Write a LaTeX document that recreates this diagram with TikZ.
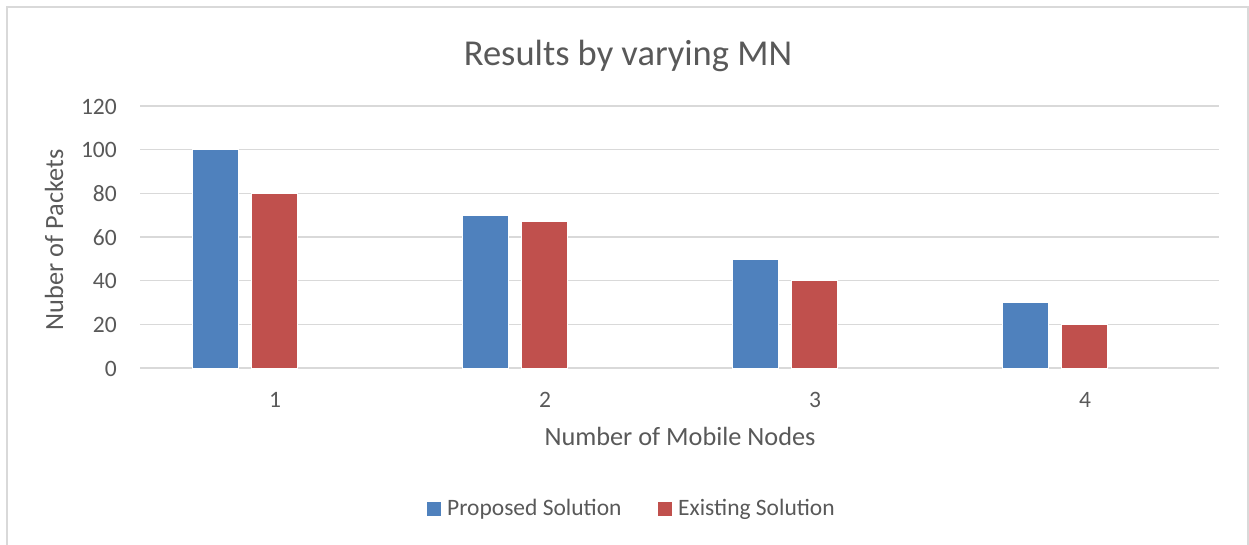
\documentclass[tikz,border=0pt]{standalone}
\usepackage{fontspec}
\setmainfont{Carlito}
\definecolor{serA}{HTML}{4F81BD}
\definecolor{serB}{HTML}{C0504D}
\definecolor{gridc}{HTML}{D9D9D9}
\definecolor{txt}{HTML}{595959}
\tikzset{
  gridline/.style={draw=gridc, line width=1.5pt},
  barA/.style={fill=serA, draw=white, line width=0.6pt},
  barB/.style={fill=serB, draw=white, line width=0.6pt},
  ticklab/.style={text=txt, font=\fontsize{23.5}{28}\selectfont, inner sep=0pt},
  axtitle/.style={text=txt, font=\fontsize{26.3}{31}\selectfont, inner sep=0pt},
  charttitle/.style={text=txt, font=\fontsize{36.5}{43}\selectfont, inner sep=0pt},
}
\begin{document}
\begin{tikzpicture}[x=1pt,y=-1pt]
  \useasboundingbox (0,0) rectangle (1249,544);
  \clip (0,0) rectangle (1249,544);
  \fill[white] (0,0) rectangle (1249,544);
  % chart frame
  \draw[draw=gridc, line width=1.5pt] (7,7) rectangle (1248,570);

  % value-to-pixel mapping: 0 at 368, 120 at 106
  \def\yv#1{368-#1*2.18333}

  % horizontal gridlines and tick labels
  \foreach \v in {0,20,...,120}{
    \draw[gridline] (140,{\yv{\v}}) -- (1219,{\yv{\v}});
    \node[ticklab, anchor=base east] (tick\v) at (117,{\yv{\v}+8}) {\v};
  }

  % bars: Proposed Solution / Existing Solution
  \foreach \i/\a/\b in {0/100/80, 1/70/67, 2/50/40, 3/30/20}{
    \draw[barA] ({192+270*\i},368) rectangle ({238+270*\i},{\yv{\a}});
    \draw[barB] ({251+270*\i},368) rectangle ({297+270*\i},{\yv{\b}});
    \pgfmathtruncatemacro{\lab}{\i+1}
    \node[ticklab, anchor=base] (cat\lab) at ({275+270*\i},407) {\lab};
  }

  % titles
  \node[charttitle, anchor=base] (title) at (628,65) {Results by varying MN};
  \node[axtitle, anchor=base] (xtitle) at (680,445) {Number of Mobile Nodes};
  \node[axtitle, anchor=base, rotate=90] (ytitle) at (63,240) {Nuber of Packets};

  % legend
  \fill[serA] (427,502) rectangle (441,516);
  \node[ticklab, anchor=base west] (legA) at (447,515.5) {Proposed Solution};
  \fill[serB] (658,502) rectangle (672,516);
  \node[ticklab, anchor=base west] (legB) at (678,515.5) {Existing Solution};
\end{tikzpicture}
\end{document}
